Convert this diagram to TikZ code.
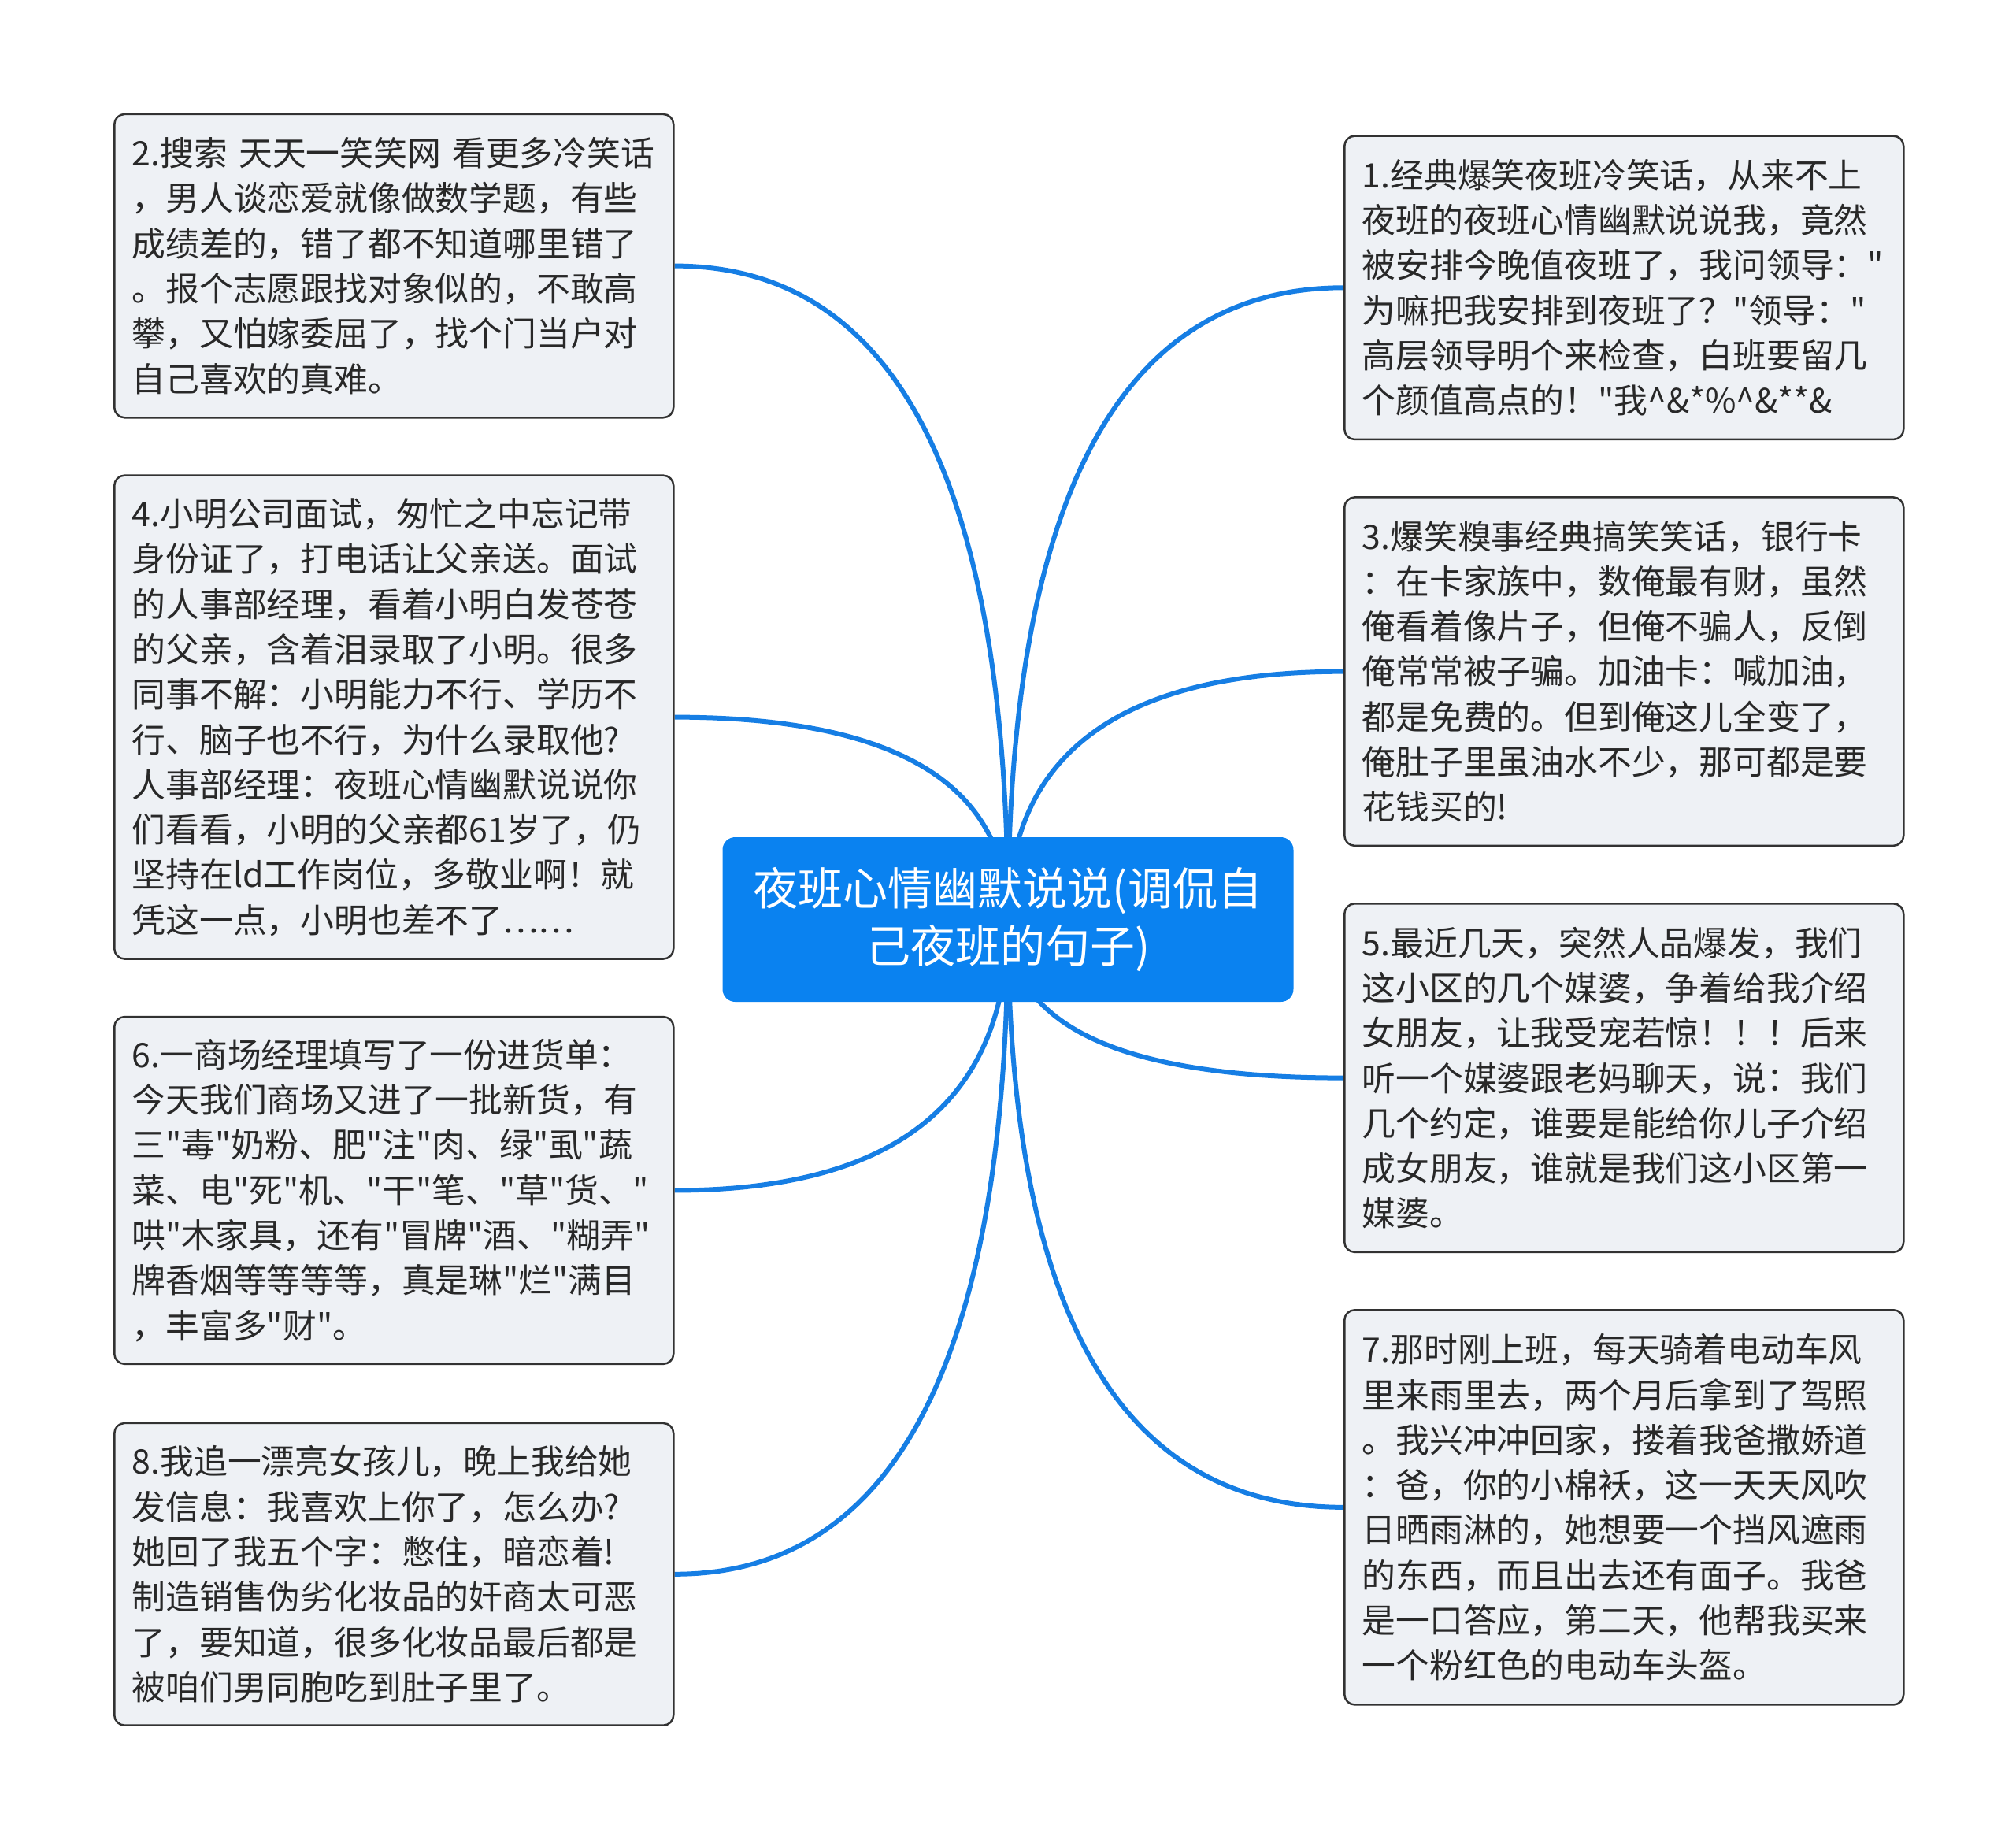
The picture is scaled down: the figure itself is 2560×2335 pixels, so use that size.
\documentclass[tikz,border=0pt]{standalone}
\usepackage{fontspec}
\newfontfamily\cjkfam{Noto Sans CJK SC}
\usetikzlibrary{calc}
\definecolor{linkblue}{RGB}{22,126,228}
\definecolor{rootblue}{RGB}{10,130,240}
\definecolor{boxfill}{RGB}{238,241,245}
\definecolor{boxborder}{RGB}{50,50,50}
\definecolor{txt}{RGB}{40,40,40}
\newcommand\leaffont{\cjkfam\fontsize{42.8pt}{57.3pt}\selectfont}
\newcommand\rootfont{\cjkfam\fontsize{57pt}{73.5pt}\selectfont}
\pgfdeclarelayer{bg}
\pgfsetlayers{bg,main}
\tikzset{
  leaf/.style={draw=boxborder, fill=boxfill, line width=2.5pt, rounded corners=13pt,
    minimum width=710pt, text width=665pt, inner xsep=22.5pt, inner ysep=0pt,
    align=left, text=txt, font=\leaffont, anchor=north west},
  root/.style={fill=rootblue, rounded corners=16pt, text=white, font=\rootfont,
    align=center, minimum width=725pt, minimum height=209pt, inner sep=0pt},
  conn/.style={draw=linkblue, line width=6pt},
}
\newcommand\lnkL[1]{\draw[conn] (root.center) .. controls ($(root.center)!0.667!(root.center |- #1.east)$) and ($(#1.east)!0.667!(root.center |- #1.east)$) .. (#1.east);}
\newcommand\lnkR[1]{\draw[conn] (root.center) .. controls ($(root.center)!0.667!(root.center |- #1.west)$) and ($(#1.west)!0.667!(root.center |- #1.west)$) .. (#1.west);}
\begin{document}
\begin{tikzpicture}[x=1pt,y=-1pt]
\useasboundingbox (0,0) rectangle (2560,2335);
\begin{pgfonlayer}{bg}
\fill[white] (0,0) rectangle (2560,2335);
\end{pgfonlayer}

\node[root] (root) at (1280,1167.5) {夜班心情幽默说说(调侃自\\己夜班的句子)};

\node[leaf, minimum height=385.3pt] (b2) at (144,143.7) {2.搜索 天天一笑笑网 看更多冷笑话\\，男人谈恋爱就像做数学题，有些\\成绩差的，错了都不知道哪里错了\\。报个志愿跟找对象似的，不敢高\\攀，又怕嫁委屈了，找个门当户对\\自己喜欢的真难。};

\node[leaf, minimum height=613.9pt] (b4) at (144,602.4) {4.小明公司面试，匆忙之中忘记带\\身份证了，打电话让父亲送。面试\\的人事部经理，看着小明白发苍苍\\的父亲，含着泪录取了小明。很多\\同事不解：小明能力不行、学历不\\行、脑子也不行，为什么录取他?\\人事部经理：夜班心情幽默说说你\\们看看，小明的父亲都61岁了，仍\\坚持在ld工作岗位，多敬业啊！就\\凭这一点，小明也差不了……};

\node[leaf, minimum height=440.8pt] (b6) at (144,1289.8) {6.一商场经理填写了一份进货单：\\今天我们商场又进了一批新货，有\\三"毒"奶粉、肥"注"肉、绿"虱"蔬\\菜、电"死"机、"干"笔、"草"货、"\\哄"木家具，还有"冒牌"酒、"糊弄"\\牌香烟等等等等，真是琳"烂"满目\\，丰富多"财"。};

\node[leaf, minimum height=383.7pt] (b8) at (144,1805.7) {8.我追一漂亮女孩儿，晚上我给她\\发信息：我喜欢上你了，怎么办?\\她回了我五个字：憋住，暗恋着!\\制造销售伪劣化妆品的奸商太可恶\\了，要知道，很多化妆品最后都是\\被咱们男同胞吃到肚子里了。};

\node[leaf, minimum height=385.3pt] (b1) at (1706,171.4) {1.经典爆笑夜班冷笑话，从来不上\\夜班的夜班心情幽默说说我，竟然\\被安排今晚值夜班了，我问领导："\\为嘛把我安排到夜班了？"领导："\\高层领导明个来检查，白班要留几\\个颜值高点的！"我\textasciicircum\&*\%\textasciicircum\&**\&};

\node[leaf, minimum height=442.4pt] (b3) at (1706,630.2) {3.爆笑糗事经典搞笑笑话，银行卡\\：在卡家族中，数俺最有财，虽然\\俺看着像片子，但俺不骗人，反倒\\俺常常被子骗。加油卡：喊加油，\\都是免费的。但到俺这儿全变了，\\俺肚子里虽油水不少，那可都是要\\花钱买的!};

\node[leaf, minimum height=442.5pt] (b5) at (1706,1146.1) {5.最近几天，突然人品爆发，我们\\这小区的几个媒婆，争着给我介绍\\女朋友，让我受宠若惊！！！后来\\听一个媒婆跟老妈聊天，说：我们\\几个约定，谁要是能给你儿子介绍\\成女朋友，谁就是我们这小区第一\\媒婆。};

\node[leaf, minimum height=501.2pt] (b7) at (1706,1662) {7.那时刚上班，每天骑着电动车风\\里来雨里去，两个月后拿到了驾照\\。我兴冲冲回家，搂着我爸撒娇道\\：爸，你的小棉袄，这一天天风吹\\日晒雨淋的，她想要一个挡风遮雨\\的东西，而且出去还有面子。我爸\\是一口答应，第二天，他帮我买来\\一个粉红色的电动车头盔。};

\begin{pgfonlayer}{bg}
\lnkL{b2}
\lnkL{b4}
\lnkL{b6}
\lnkL{b8}
\lnkR{b1}
\lnkR{b3}
\lnkR{b5}
\lnkR{b7}
\end{pgfonlayer}
\end{tikzpicture}
\end{document}
